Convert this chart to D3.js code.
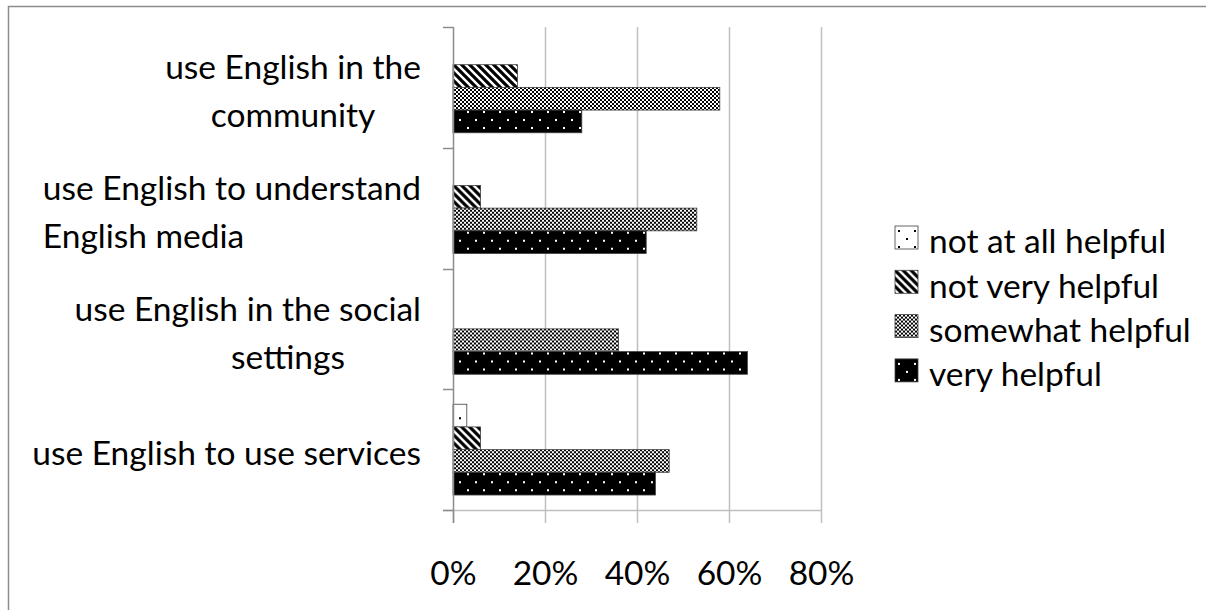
<!DOCTYPE html>
<html>
<head>
<meta charset="utf-8">
<script src="https://cdn.jsdelivr.net/npm/d3@7"></script>
<style>
  html, body { margin: 0; padding: 0; background: #fff; overflow: hidden; }
  svg { display: block; }
  text { font-family: Lato, "Open Sans", sans-serif; fill: #000; }
</style>
</head>
<body>
<svg id="chart" width="1206" height="610"></svg>
<script>
// ---- data ----
const categories = [
  "use English in the community",
  "use English to understand English media",
  "use English in the social settings",
  "use English to use services"
];
const categoryLines = [
  ["use English in the", "community"],
  ["use English to understand", "English media"],
  ["use English in the social", "settings"],
  ["use English to use services"]
];
const seriesNames = ["not at all helpful", "not very helpful", "somewhat helpful", "very helpful"];
const notAtAll = [0, 0, 0, 0.03];
const notVery = [0.14, 0.06, 0, 0.06];
const somewhat = [0.58, 0.53, 0.36, 0.47];
const veryHelpful = [0.28, 0.42, 0.64, 0.44];
const seriesValues = [notAtAll, notVery, somewhat, veryHelpful];
const tickValues = [0, 0.2, 0.4, 0.6, 0.8];
const tickLabels = ["0%", "20%", "40%", "60%", "80%"];

// ---- layout ----
const svg = d3.select("#chart");
const plot = { left: 453, right: 821, top: 27, bottom: 510 };
const fontSize = 33.5;

// outer border (right and bottom edges fall outside the picture)
svg.append("rect").attr("x", 8.5).attr("y", 6.5).attr("width", 1400).attr("height", 800)
  .attr("fill", "none").attr("stroke", "#8c8c8c").attr("stroke-width", 1.5);

// patterns
const defs = svg.append("defs");
// not at all: white with black dots
let p = defs.append("pattern").attr("id", "p0").attr("patternUnits", "userSpaceOnUse")
  .attr("width", 16).attr("height", 16);
p.append("rect").attr("width", 16).attr("height", 16).attr("fill", "#fff");
p.append("rect").attr("x", 3).attr("y", 4).attr("width", 2).attr("height", 2).attr("fill", "#000");
p.append("rect").attr("x", 11).attr("y", 12).attr("width", 2).attr("height", 2).attr("fill", "#000");
// not very: wide downward diagonal stripes
p = defs.append("pattern").attr("id", "p1").attr("patternUnits", "userSpaceOnUse")
  .attr("width", 8).attr("height", 8);
p.append("rect").attr("width", 8).attr("height", 8).attr("fill", "#fff");
p.append("path").attr("d", "M-2,-2 L10,10 M-6,2 L6,14 M2,-6 L14,6")
  .attr("stroke", "#000").attr("stroke-width", 3.2);
// somewhat: small checkerboard
p = defs.append("pattern").attr("id", "p2").attr("patternUnits", "userSpaceOnUse")
  .attr("width", 4).attr("height", 4);
p.append("rect").attr("width", 4).attr("height", 4).attr("fill", "#fff");
p.append("rect").attr("x", 0).attr("y", 0).attr("width", 2).attr("height", 2).attr("fill", "#000");
p.append("rect").attr("x", 2).attr("y", 2).attr("width", 2).attr("height", 2).attr("fill", "#000");
// very: black with white dots
p = defs.append("pattern").attr("id", "p3").attr("patternUnits", "userSpaceOnUse")
  .attr("width", 16).attr("height", 16);
p.append("rect").attr("width", 16).attr("height", 16).attr("fill", "#000");
p.append("rect").attr("x", 3).attr("y", 4).attr("width", 2).attr("height", 2).attr("fill", "#fff");
p.append("rect").attr("x", 11).attr("y", 12).attr("width", 2).attr("height", 2).attr("fill", "#fff");
const fills = ["url(#p0)", "url(#p1)", "url(#p2)", "url(#p3)"];

// scales
const x = d3.scaleLinear().domain([0, 0.8]).range([plot.left, plot.right]);
const y = d3.scaleBand().domain(categories).range([plot.top, plot.bottom]).paddingInner(0).paddingOuter(0);
const ySub = d3.scaleBand().domain(seriesNames).range([0, y.bandwidth()]).paddingInner(0).paddingOuter(0.66);

// gridlines
svg.append("g").selectAll("line").data(tickValues.slice(1)).join("line")
  .attr("x1", d => Math.round(x(d)) + 0.5).attr("x2", d => Math.round(x(d)) + 0.5)
  .attr("y1", plot.top).attr("y2", plot.bottom)
  .attr("stroke", "#bfbfbf").attr("stroke-width", 1.5);

// bottom axis (value)
const xAxis = d3.axisBottom(x).tickValues(tickValues).tickFormat((d, i) => tickLabels[i])
  .tickSize(13).tickSizeOuter(0).tickPadding(38);
const gx = svg.append("g").attr("transform", `translate(0,${plot.bottom})`).call(xAxis);
gx.select(".domain").attr("stroke", "#bfbfbf").attr("stroke-width", 1.5)
  .attr("d", `M${plot.left - 10},0.5H${plot.right}`);
gx.selectAll(".tick line").attr("stroke", "#bfbfbf").attr("stroke-width", 1.5);
gx.selectAll(".tick text").attr("font-size", fontSize).attr("font-family", "Lato").attr("fill", "#000")
  .attr("dy", "0.71em");

// bars
const groups = svg.append("g").selectAll("g").data(categories).join("g")
  .attr("transform", d => `translate(0,${y(d)})`);
groups.selectAll("rect").data((c, ci) => seriesNames.map((s, si) => ({ s, si, v: seriesValues[si][ci] })))
  .join("rect")
  .filter(d => d.v > 0)
  .attr("x", x(0)).attr("y", d => ySub(d.s))
  .attr("width", d => x(d.v) - x(0)).attr("height", ySub.bandwidth())
  .attr("fill", d => fills[d.si])
  .attr("stroke", "#404040").attr("stroke-width", 0.8);

// left axis (category)
const yAxisLine = svg.append("g");
yAxisLine.append("line").attr("x1", plot.left + 0.5).attr("x2", plot.left + 0.5)
  .attr("y1", plot.top).attr("y2", plot.bottom + 13)
  .attr("stroke", "#8c8c8c").attr("stroke-width", 1.5);
const boundaries = categories.map(c => y(c)).concat([plot.bottom]);
yAxisLine.selectAll("line.t").data(boundaries).join("line").attr("class", "t")
  .attr("x1", plot.left - 10).attr("x2", plot.left)
  .attr("y1", d => Math.round(d) + 0.5).attr("y2", d => Math.round(d) + 0.5)
  .attr("stroke", "#8c8c8c").attr("stroke-width", 1.5);

// category labels (Excel-like wrapped lines)
const lineH = 48;
const labelRight = 421;
const secondLineAlign = ["center", "left", "offset", null];
const lab = svg.append("g");
categories.forEach((c, ci) => {
  const lines = categoryLines[ci];
  const cy = y(c) + y.bandwidth() / 2 + 4;
  const g = lab.append("text").attr("font-size", fontSize);
  if (lines.length === 1) {
    g.append("tspan").attr("x", labelRight).attr("text-anchor", "end")
      .attr("y", cy).attr("dy", "0.35em").text(lines[0]);
  } else {
    const t1 = g.append("tspan").attr("x", labelRight).attr("text-anchor", "end")
      .attr("y", cy - lineH / 2).attr("dy", "0.35em").text(lines[0]);
    const w1 = t1.node().getComputedTextLength();
    const t2 = g.append("tspan").attr("y", cy + lineH / 2).attr("dy", "0.35em").text(lines[1]);
    const a = secondLineAlign[ci];
    if (a === "left") t2.attr("x", labelRight - w1).attr("text-anchor", "start");
    else if (a === "center") t2.attr("x", labelRight - w1 / 2).attr("text-anchor", "middle");
    else t2.attr("x", labelRight - 133).attr("text-anchor", "middle");
  }
});

// legend
const legend = svg.append("g").attr("transform", "translate(895,226)");
const li = legend.selectAll("g").data(seriesNames).join("g")
  .attr("transform", (d, i) => `translate(0,${i * 44.3})`);
li.append("rect").attr("width", 23).attr("height", 23)
  .attr("fill", (d, i) => fills[i]).attr("stroke", "#404040").attr("stroke-width", 0.8);
li.append("text").attr("x", 34).attr("y", 15.5).attr("dy", "0.35em")
  .attr("font-size", fontSize).text(d => d);
</script>
</body>
</html>
